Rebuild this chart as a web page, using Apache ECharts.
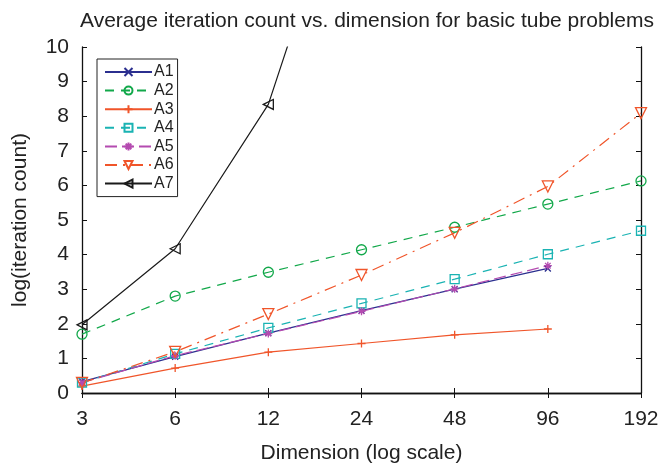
<!DOCTYPE html>
<html><head><meta charset="utf-8">
<script src="https://cdn.jsdelivr.net/npm/echarts@6/dist/echarts.min.js"></script>
<style>html,body{margin:0;padding:0;background:#fff}#c{width:662px;height:464px}</style>
</head><body><div id="c"></div>
<script>
const dims = ['3','6','12','24','48','96','192'];
const yTicks = [0,1,2,3,4,5,6,7,8,9,10];
const A1 = [0.33, 1.05, 1.73, 2.38, 3.00, 3.60, null];
const A2 = [1.70, 2.80, 3.49, 4.14, 4.79, 5.46, 6.13];
const A3 = [0.20, 0.72, 1.18, 1.43, 1.68, 1.85, null];
const A4 = [0.30, 1.13, 1.88, 2.59, 3.29, 4.01, 4.69];
const A5 = [0.30, 1.08, 1.72, 2.36, 3.01, 3.68, null];
const A6 = [0.29, 1.19, 2.28, 3.41, 4.63, 5.97, 8.09];
const A7 = [1.97, 4.17, 8.34, 16.5, null, null, null];

const X_PATH = 'path://M0,0L10,10M10,0L0,10';
const PLUS_PATH = 'path://M5,0L5,10M0,5L10,5';
const STAR_PATH = 'path://M5,0L5,10M0,5L10,5M1.5,1.5L8.5,8.5M8.5,1.5L1.5,8.5';
const FONT = 'Liberation Sans, Arial, Helvetica';

function mk(name, data, color, symbol, size, type, rot) {
  return {
    name, type: 'line', data, symbol, symbolSize: size, symbolRotate: rot || 0,
    showSymbol: true, connectNulls: false, animation: false,
    lineStyle: { color, width: 1.2, type },
    itemStyle: { color: 'rgba(255,255,255,0)', borderColor: color, borderWidth: 1.3 },
    emphasis: { disabled: true }
  };
}
const chart = echarts.init(document.getElementById('c'), null, { renderer: 'canvas' });
const axisLine = { show: true, lineStyle: { color: '#111', width: 1.3 } };
const tick = { show: true, inside: true, length: 5, lineStyle: { color: '#111', width: 1 } };
chart.setOption({
  backgroundColor: '#fff',
  title: { text: 'Average iteration count vs. dimension for basic tube problems', left: 362, top: 6, textAlign: 'center',
    textStyle: { fontFamily: FONT, fontSize: 21, fontWeight: 'normal', color: '#222' } },
  legend: {
    orient: 'vertical', left: 97, top: 59, padding: [5, 4, 5, 7], itemGap: 2.6,
    itemWidth: 47, itemHeight: 10, borderColor: '#222', borderWidth: 1, backgroundColor: '#fff',
    textStyle: { fontFamily: FONT, fontSize: 16, color: '#222', padding: [0,0,0,-3] },
    data: ['A1','A2','A3','A4','A5','A6','A7']
  },
  grid: { left: 82, right: 21, top: 47, bottom: 71, containLabel: false, outerBoundsMode: 'none' },
  xAxis: [{
    type: 'category', data: dims, boundaryGap: false,
    name: 'Dimension (log scale)', nameLocation: 'middle', nameGap: 50,
    nameTextStyle: { fontFamily: FONT, fontSize: 21, color: '#222' },
    axisLine, axisTick: Object.assign({}, tick, { alignWithLabel: true }),
    axisLabel: { fontFamily: FONT, fontSize: 21, color: '#222', margin: 16 },
    splitLine: { show: false }
  }, {
    type: 'category', data: dims, boundaryGap: false, position: 'top',
    axisLine, axisTick: tick, axisLabel: { show: false }, splitLine: { show: false }
  }],
  yAxis: [{
    type: 'value', min: 0, max: 10, interval: 1,
    name: 'log(iteration count)', nameLocation: 'middle', nameGap: 51,
    nameTextStyle: { fontFamily: FONT, fontSize: 21, color: '#222' },
    axisLine, axisTick: tick,
    axisLabel: { fontFamily: FONT, fontSize: 21, color: '#222', margin: 13,
      formatter: v => yTicks.includes(v) ? String(v) : '' },
    splitLine: { show: false }
  }, {
    type: 'value', min: 0, max: 10, interval: 1, position: 'right',
    axisLine, axisTick: tick, axisLabel: { show: false }, splitLine: { show: false }
  }],
  series: [
    mk('A1', A1, '#2b2f8f', X_PATH, 6, 'solid'),
    mk('A2', A2, '#12a84a', 'circle', 10, [9, 7]),
    mk('A3', A3, '#f0552a', PLUS_PATH, 8, 'solid'),
    mk('A4', A4, '#1ab3b3', 'rect', 9, [9, 7]),
    mk('A5', A5, '#b44bb0', STAR_PATH, 8, [12, 5]),
    mk('A6', A6, '#f0552a', 'triangle', 11, [12, 6, 2, 6], 180),
    mk('A7', A7, '#1a1a1a', 'triangle', 10, 'solid', 90)
  ]
});
</script></body></html>
